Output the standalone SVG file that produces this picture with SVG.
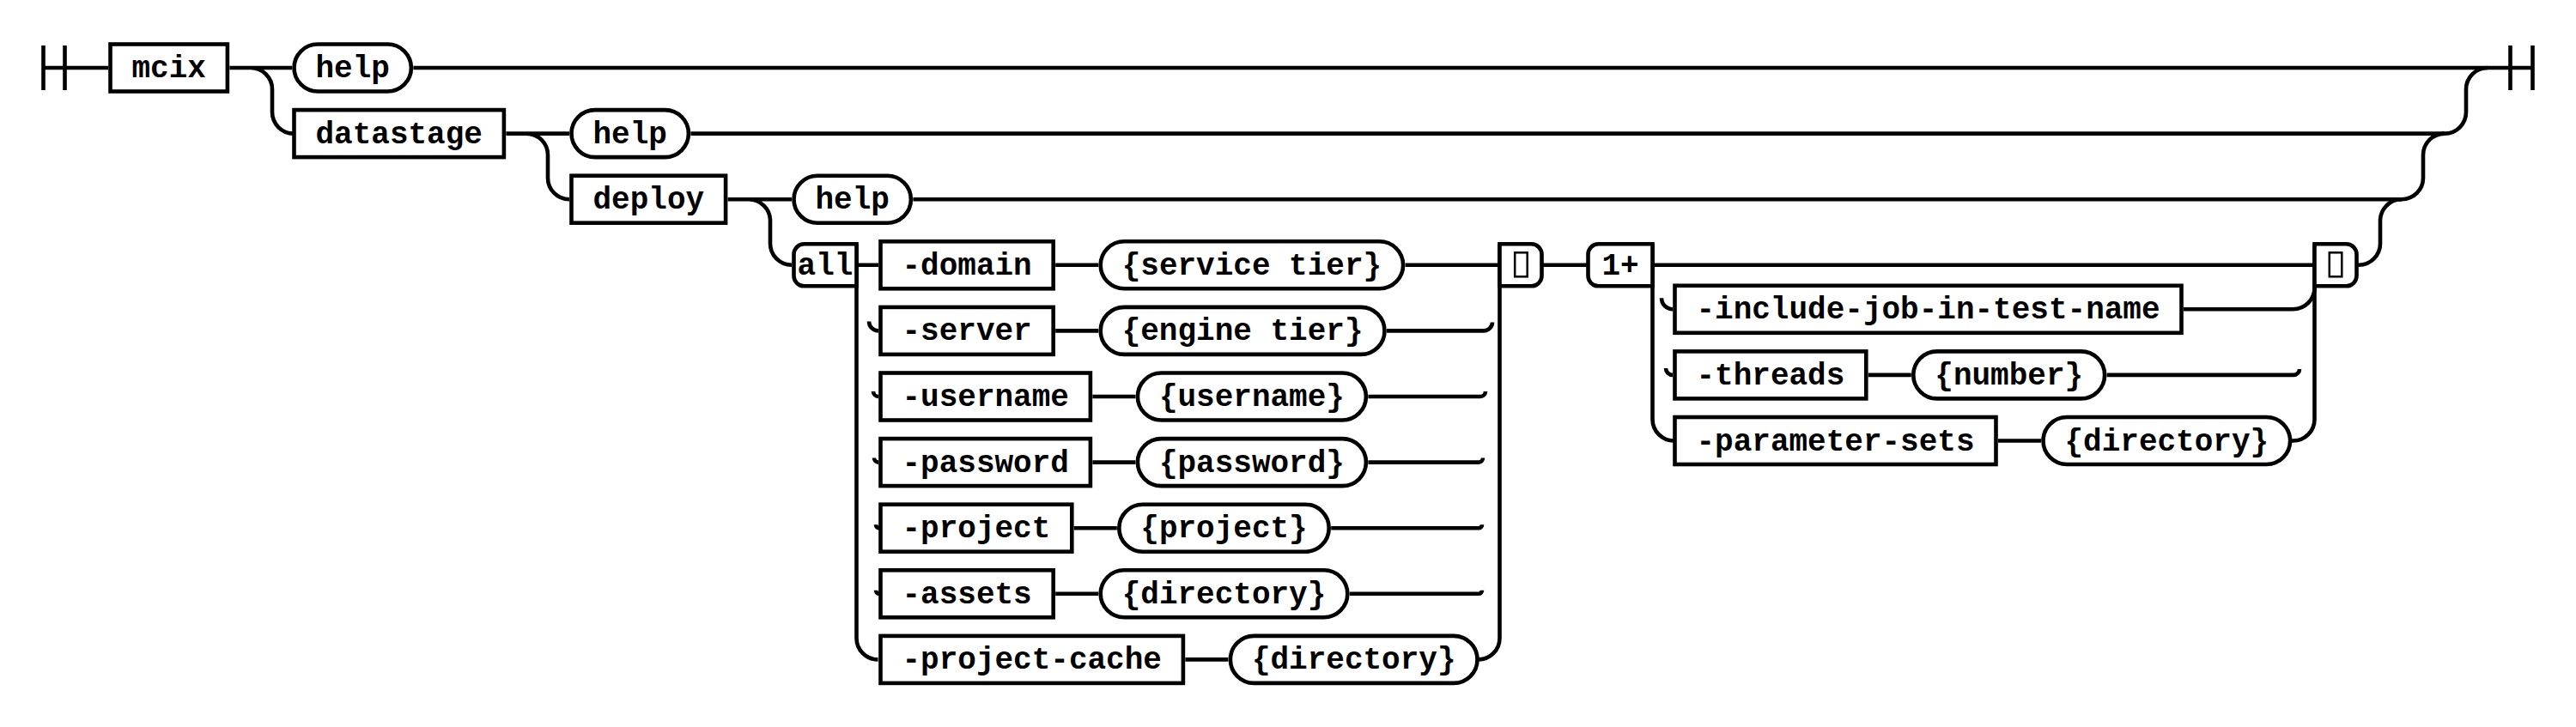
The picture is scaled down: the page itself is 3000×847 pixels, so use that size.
<svg xmlns="http://www.w3.org/2000/svg" width="3000" height="847" viewBox="0 0 3000 847">
<style>
.c{fill:none;stroke:#000;stroke-width:4.6}
.b{fill:#fff;stroke:#000;stroke-width:4.6}
.t{font-family:"Liberation Mono","Courier New",monospace;font-weight:bold;font-size:36px;fill:#000;text-anchor:middle}
.g{fill:#fff;stroke:#000;stroke-width:2.5}
</style>
<rect width="3000" height="847" fill="#fff"/>
<g id="connectors" class="c">
<path d="M50.5 53V105M75.5 53V105M50.5 79H126"/>
<path d="M2923.5 53V105M2949.5 53V105M481.4 79H2949.5"/>
<path d="M267.4 79H340M292 79a25 25 0 0 1 25 25V130.6a25 25 0 0 0 25 25"/>
<path d="M589.4 155.6H663M613 155.6a25 25 0 0 1 25 25V207.2a25 25 0 0 0 25 25"/>
<path d="M847.6 232.2H922M872 232.2a25 25 0 0 1 25 25V283.8a25 25 0 0 0 25 25"/>
<path d="M804.4 155.6H2847M1063.4 232.2H2797"/>
<path d="M2744.5 308.8H2747a25 25 0 0 0 25-25V257.2a25 25 0 0 1 25-25"/>
<path d="M2797 232.2a25 25 0 0 0 25-25V180.6a25 25 0 0 1 25-25"/>
<path d="M2847 155.6a25 25 0 0 0 25-25V104a25 25 0 0 1 25-25"/>
<path d="M997.5 284.3V743.4a25 25 0 0 0 25 25"/>
<path d="M997.5 308.8H1023M1229.2 308.8H1279.2M1636.6 308.8H1746.5"/>
<path d="M1012 374.4a11 11 0 0 0 11 11M1229.2 385.4H1279.2M1615 385.4H1728a10 10 0 0 0 10-10"/>
<path d="M1017 456a6 6 0 0 0 6 6M1272.4 462H1322.4M1593.4 462H1724a6 6 0 0 0 6-6"/>
<path d="M1018 533.6a5 5 0 0 0 5 5M1272.4 538.6H1322.4M1593.4 538.6H1722a5 5 0 0 0 5-5"/>
<path d="M1020 611.2a4 4 0 0 0 4 4M1250.8 615.2H1300.8M1550.2 615.2H1722a4 4 0 0 0 4-4"/>
<path d="M1020 687.8a4 4 0 0 0 4 4M1229.2 691.8H1279.2M1571.8 691.8H1722a4 4 0 0 0 4-4"/>
<path d="M1380.4 768.4H1430.4M1721.5 768.4a25 25 0 0 0 25-25V284.3"/>
<path d="M1795.5 308.8H1849.5M1924.5 308.8H2695.5"/>
<path d="M1924.5 284.3V488.5a25 25 0 0 0 25 25"/>
<path d="M1935 347.3a13 13 0 0 0 13 13M2543 360.3H2670.5a25 25 0 0 0 25-25"/>
<path d="M1940 428.9a8 8 0 0 0 8 8M2175.8 436.9H2225.8M2453.6 436.9H2671a7 7 0 0 0 7-7"/>
<path d="M2327 513.5H2377M2668 513.5H2670.5a25 25 0 0 0 25-25V284.3"/>
</g>
<g id="n-mcix"><rect class="b" x="128.5" y="51.5" width="136.4" height="55"/><text class="t" x="196.7" y="90">mcix</text></g>
<g id="n-help1"><rect class="b" x="342.5" y="51.5" width="136.4" height="55" rx="27.5"/><text class="t" x="410.7" y="90">help</text></g>
<g id="n-datastage"><rect class="b" x="342.5" y="128.1" width="244.4" height="55"/><text class="t" x="464.7" y="166.6">datastage</text></g>
<g id="n-help2"><rect class="b" x="665.5" y="128.1" width="136.4" height="55" rx="27.5"/><text class="t" x="733.7" y="166.6">help</text></g>
<g id="n-deploy"><rect class="b" x="665.5" y="204.7" width="179.6" height="55"/><text class="t" x="755.3" y="243.2">deploy</text></g>
<g id="n-help3"><rect class="b" x="924.5" y="204.7" width="136.4" height="55" rx="27.5"/><text class="t" x="992.7" y="243.2">help</text></g>
<g id="n-all"><path class="b" d="M997.5 284.3H936.5a12 12 0 0 0-12 12V321.3a12 12 0 0 0 12 12H997.5Z"/><text class="t" x="961" y="319.8">all</text></g>
<g id="n-domain"><rect class="b" x="1025.5" y="281.3" width="201.2" height="55"/><text class="t" x="1126.1" y="319.8">-domain</text></g>
<g id="n-service-tier"><rect class="b" x="1281.7" y="281.3" width="352.4" height="55" rx="27.5"/><text class="t" x="1457.9" y="319.8">{service tier}</text></g>
<g id="n-server"><rect class="b" x="1025.5" y="357.9" width="201.2" height="55"/><text class="t" x="1126.1" y="396.4">-server</text></g>
<g id="n-engine-tier"><rect class="b" x="1281.7" y="357.9" width="330.8" height="55" rx="27.5"/><text class="t" x="1447.1" y="396.4">{engine tier}</text></g>
<g id="n-username"><rect class="b" x="1025.5" y="434.5" width="244.4" height="55"/><text class="t" x="1147.7" y="473">-username</text></g>
<g id="n-username-val"><rect class="b" x="1324.9" y="434.5" width="266" height="55" rx="27.5"/><text class="t" x="1457.9" y="473">{username}</text></g>
<g id="n-password"><rect class="b" x="1025.5" y="511.1" width="244.4" height="55"/><text class="t" x="1147.7" y="549.6">-password</text></g>
<g id="n-password-val"><rect class="b" x="1324.9" y="511.1" width="266" height="55" rx="27.5"/><text class="t" x="1457.9" y="549.6">{password}</text></g>
<g id="n-project"><rect class="b" x="1025.5" y="587.7" width="222.8" height="55"/><text class="t" x="1136.9" y="626.2">-project</text></g>
<g id="n-project-val"><rect class="b" x="1303.3" y="587.7" width="244.4" height="55" rx="27.5"/><text class="t" x="1425.5" y="626.2">{project}</text></g>
<g id="n-assets"><rect class="b" x="1025.5" y="664.3" width="201.2" height="55"/><text class="t" x="1126.1" y="702.8">-assets</text></g>
<g id="n-assets-val"><rect class="b" x="1281.7" y="664.3" width="287.6" height="55" rx="27.5"/><text class="t" x="1425.5" y="702.8">{directory}</text></g>
<g id="n-project-cache"><rect class="b" x="1025.5" y="740.9" width="352.4" height="55"/><text class="t" x="1201.7" y="779.4">-project-cache</text></g>
<g id="n-project-cache-val"><rect class="b" x="1432.9" y="740.9" width="287.6" height="55" rx="27.5"/><text class="t" x="1576.7" y="779.4">{directory}</text></g>
<g id="n-group-end1"><path class="b" d="M1746.5 284.3H1783.5a12 12 0 0 1 12 12V321.3a12 12 0 0 1-12 12H1746.5Z"/><rect class="g" x="1764.2" y="294.3" width="14.5" height="28"/></g>
<g id="n-oneplus"><path class="b" d="M1924.5 284.3H1861.5a12 12 0 0 0-12 12V321.3a12 12 0 0 0 12 12H1924.5Z"/><text class="t" x="1887" y="319.8">1+</text></g>
<g id="n-include"><rect class="b" x="1950.5" y="332.8" width="590" height="55"/><text class="t" x="2245.5" y="371.3">-include-job-in-test-name</text></g>
<g id="n-threads"><rect class="b" x="1950.5" y="409.4" width="222.8" height="55"/><text class="t" x="2061.9" y="447.9">-threads</text></g>
<g id="n-number"><rect class="b" x="2228.3" y="409.4" width="222.8" height="55" rx="27.5"/><text class="t" x="2339.7" y="447.9">{number}</text></g>
<g id="n-parameter-sets"><rect class="b" x="1950.5" y="486" width="374" height="55"/><text class="t" x="2137.5" y="524.5">-parameter-sets</text></g>
<g id="n-parameter-sets-val"><rect class="b" x="2379.5" y="486" width="287.6" height="55" rx="27.5"/><text class="t" x="2523.3" y="524.5">{directory}</text></g>
<g id="n-group-end2"><path class="b" d="M2695.5 284.3H2732.5a12 12 0 0 1 12 12V321.3a12 12 0 0 1-12 12H2695.5Z"/><rect class="g" x="2712.8" y="294.3" width="14.5" height="28"/></g>
</svg>
